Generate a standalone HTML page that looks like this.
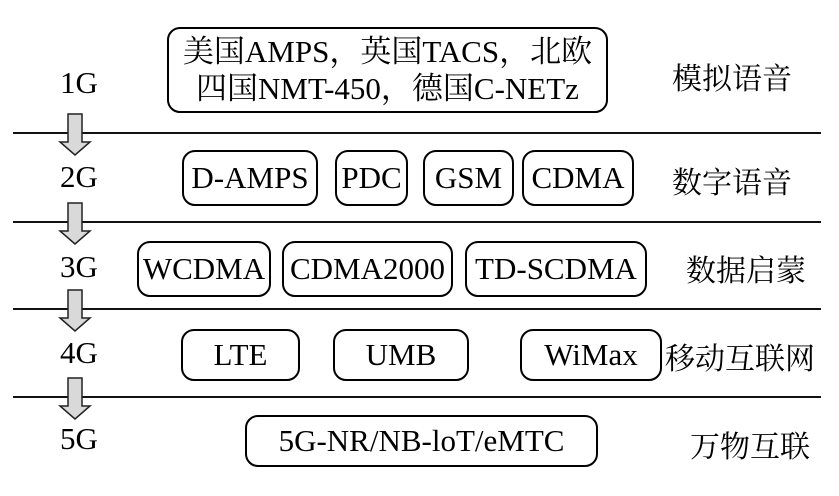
<!DOCTYPE html>
<html><head><meta charset="utf-8"><style>
body{margin:0;width:839px;height:496px;background:#fff;position:relative;overflow:hidden;font-family:"Liberation Serif","Noto Serif CJK SC",serif;color:#000}
.b{position:absolute;border:2.5px solid #000;border-radius:13px;box-sizing:border-box;display:flex;align-items:center;justify-content:center;font-size:31px;text-align:center;line-height:1.2;white-space:nowrap}
.l{position:absolute;height:2px;background:#111;left:13px;width:808px}
.g{position:absolute;font-size:31px;left:48px;width:62px;text-align:center}
.r{position:absolute;font-size:30px;font-family:"Noto Serif CJK SC",serif}
</style></head><body>
<div class="l" style="top:132px"></div>
<div class="l" style="top:221px"></div>
<div class="l" style="top:308px"></div>
<div class="l" style="top:396px"></div>
<svg style="position:absolute;left:0;top:0" width="839" height="496">
<g fill="#d9d9d9" stroke="#222" stroke-width="1.5">
<polygon points="68,114 82,114 82,142 90,142 75,155 60,142 68,142"/>
<polygon points="68,203 82,203 82,231 90,231 75,244 60,231 68,231"/>
<polygon points="68,290 82,290 82,318 90,318 75,331 60,318 68,318"/>
<polygon points="68,378 82,378 82,406 90,406 75,419 60,406 68,406"/>
</g></svg>
<div class="g" style="top:65px">1G</div>
<div class="g" style="top:159px">2G</div>
<div class="g" style="top:249px">3G</div>
<div class="g" style="top:335px">4G</div>
<div class="g" style="top:421px">5G</div>
<div class="b" style="left:167px;top:27px;width:441px;height:86px">美国AMPS，英国TACS，北欧<br>四国NMT-450，德国C-NETz</div>
<div class="b" style="left:182px;top:150px;width:136px;height:56px">D-AMPS</div>
<div class="b" style="left:335px;top:150px;width:73px;height:56px">PDC</div>
<div class="b" style="left:423px;top:150px;width:91px;height:56px">GSM</div>
<div class="b" style="left:522px;top:150px;width:112px;height:56px">CDMA</div>
<div class="b" style="left:137px;top:241px;width:134px;height:56px">WCDMA</div>
<div class="b" style="left:282px;top:241px;width:171px;height:56px">CDMA2000</div>
<div class="b" style="left:465px;top:241px;width:182px;height:56px">TD-SCDMA</div>
<div class="b" style="left:181px;top:329px;width:119px;height:52px">LTE</div>
<div class="b" style="left:333px;top:329px;width:136px;height:52px">UMB</div>
<div class="b" style="left:520px;top:329px;width:142px;height:52px">WiMax</div>
<div class="b" style="left:245px;top:415px;width:353px;height:52px">5G-NR/NB-loT/eMTC</div>
<div class="r" style="left:672px;top:54px">模拟语音</div>
<div class="r" style="left:672px;top:158px">数字语音</div>
<div class="r" style="left:686px;top:246px">数据启蒙</div>
<div class="r" style="left:665px;top:334px">移动互联网</div>
<div class="r" style="left:690px;top:422px">万物互联</div>
</body></html>
